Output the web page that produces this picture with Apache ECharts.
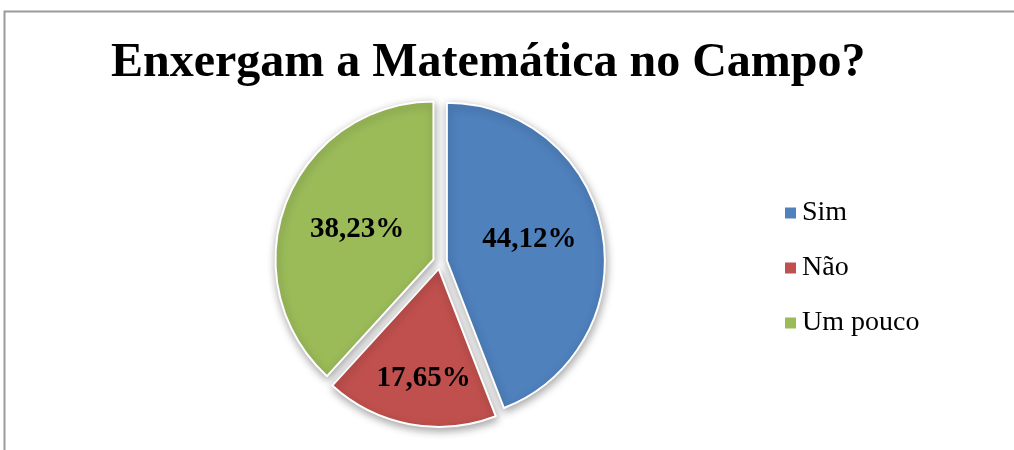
<!DOCTYPE html>
<html>
<head>
<meta charset="utf-8">
<script src="https://cdn.jsdelivr.net/npm/echarts@6/dist/echarts.min.js"></script>
<style>
  html, body { margin: 0; padding: 0; background: #ffffff; }
  #chart { width: 1014px; height: 450px; }
</style>
</head>
<body>
<div id="chart"></div>
<script>
const titleText = 'Enxergam a Matemática no Campo?';
const categories = ['Sim', 'Não', 'Um pouco'];
const values = [44.12, 17.65, 38.23];
const colors = ['#4F81BD', '#C0504D', '#9BBB59'];

const serif = '"Liberation Serif", "Times New Roman", serif';

const chart = echarts.init(document.getElementById('chart'), null, { renderer: 'canvas' });

const pieData = categories.map((name, i) => ({
  name: name,
  value: values[i],
  selected: true,
  itemStyle: { color: colors[i] }
}));

chart.setOption({
  animation: false,
  backgroundColor: '#ffffff',
  title: {
    text: titleText,
    left: 106,
    top: 35,
    textStyle: {
      fontFamily: serif,
      fontSize: 48,
      fontWeight: 'bold',
      color: '#000000'
    }
  },
  legend: {
    orient: 'vertical',
    left: 778,
    top: 194,
    itemWidth: 13,
    itemHeight: 13,
    itemGap: 27,
    icon: 'rect',
    selectedMode: false,
    data: categories,
    textStyle: {
      fontFamily: serif,
      fontSize: 28,
      lineHeight: 28,
      color: '#000000'
    }
  },
  graphic: [{
    type: 'rect',
    silent: true,
    shape: { x: 4.5, y: 11.5, width: 1100, height: 500 },
    style: { fill: 'none', stroke: '#9a9a9a', lineWidth: 2 }
  }],
  series: [{
    type: 'pie',
    center: [440, 262],
    radius: ['0%', 158],
    startAngle: 90,
    clockwise: true,
    selectedMode: 'multiple',
    selectedOffset: 7,
    avoidLabelOverlap: false,
    data: pieData,
    itemStyle: {
      borderColor: '#ffffff',
      borderWidth: 2,
      shadowBlur: 8,
      shadowColor: 'rgba(0,0,0,0.35)',
      shadowOffsetX: 1,
      shadowOffsetY: 3
    },
    select: { itemStyle: {} },
    emphasis: { disabled: true },
    label: {
      show: true,
      position: 'inside',
      fontFamily: serif,
      fontSize: 29,
      fontWeight: 'bold',
      color: '#000000',
      formatter: p => p.value.toFixed(2).replace('.', ',') + '%'
    },
    labelLine: { show: false },
    labelLayout: function (params) {
      if (params.dataIndex === 1) return { dy: 29 };
      if (params.dataIndex === 0) return { dy: -6, dx: 2 };
      return {};
    }
  }]
});
</script>
</body>
</html>
